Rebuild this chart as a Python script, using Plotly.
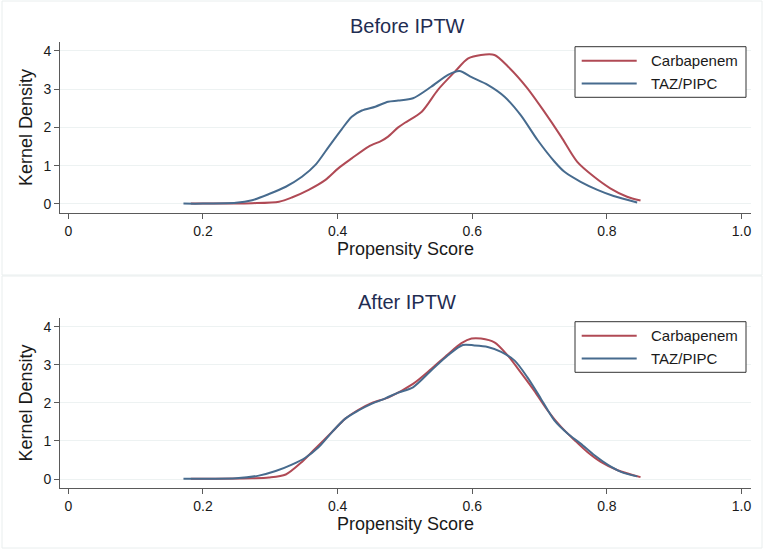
import plotly.graph_objects as go

W, H = 767, 551

# ---- data ----
series_names = ["Carbapenem", "TAZ/PIPC"]
panel_titles = ["Before IPTW", "After IPTW"]
x_ticks = [0, 0.2, 0.4, 0.6, 0.8, 1.0]
x_ticklabels = ["0", "0.2", "0.4", "0.6", "0.8", "1.0"]
y_ticks = [0, 1, 2, 3, 4]

before_carb_x = [0.182, 0.22, 0.273, 0.313, 0.332, 0.357, 0.382, 0.401, 0.421, 0.446, 0.465, 0.475, 0.490, 0.500,
                 0.525, 0.549, 0.574, 0.594, 0.613, 0.633, 0.653, 0.682, 0.707, 0.732, 0.756, 0.781, 0.805, 0.830, 0.850]
before_carb_y = [0.01, 0.01, 0.02, 0.06, 0.17, 0.37, 0.63, 0.93, 1.19, 1.50, 1.65, 1.76, 2.00, 2.12,
                 2.41, 2.98, 3.45, 3.80, 3.89, 3.89, 3.59, 3.02, 2.41, 1.76, 1.10, 0.71, 0.41, 0.19, 0.09]

before_taz_x = [0.171, 0.20, 0.249, 0.273, 0.298, 0.323, 0.347, 0.367, 0.387, 0.406, 0.421, 0.436, 0.456, 0.475, 0.490,
                0.512, 0.539, 0.564, 0.581, 0.599, 0.623, 0.648, 0.672, 0.697, 0.722, 0.737, 0.761, 0.786, 0.810, 0.845]
before_taz_y = [0.01, 0.01, 0.03, 0.10, 0.26, 0.45, 0.71, 1.02, 1.50, 1.95, 2.28, 2.44, 2.54, 2.67, 2.70,
                2.76, 3.06, 3.37, 3.47, 3.31, 3.11, 2.80, 2.32, 1.67, 1.11, 0.84, 0.58, 0.37, 0.21, 0.04]

after_carb_x = [0.182, 0.22, 0.273, 0.298, 0.323, 0.347, 0.367, 0.392, 0.411, 0.431, 0.451, 0.475, 0.512, 0.539,
                0.564, 0.584, 0.599, 0.613, 0.633, 0.653, 0.672, 0.692, 0.712, 0.732, 0.752, 0.771, 0.791, 0.816, 0.850]
after_carb_y = [0.01, 0.01, 0.02, 0.04, 0.12, 0.45, 0.80, 1.24, 1.58, 1.82, 2.00, 2.14, 2.50, 2.89,
                3.28, 3.57, 3.69, 3.69, 3.59, 3.24, 2.80, 2.32, 1.80, 1.37, 1.02, 0.71, 0.45, 0.23, 0.05]

after_taz_x = [0.171, 0.21, 0.249, 0.283, 0.308, 0.332, 0.352, 0.372, 0.392, 0.411, 0.431, 0.451, 0.471, 0.490, 0.512,
               0.539, 0.564, 0.586, 0.603, 0.623, 0.643, 0.663, 0.682, 0.702, 0.722, 0.742, 0.761, 0.781, 0.801, 0.821, 0.845]
after_taz_y = [0.01, 0.01, 0.02, 0.09, 0.21, 0.38, 0.56, 0.84, 1.24, 1.58, 1.80, 1.98, 2.12, 2.27, 2.41,
               2.85, 3.25, 3.52, 3.51, 3.47, 3.34, 3.11, 2.67, 2.11, 1.54, 1.19, 0.93, 0.63, 0.38, 0.19, 0.07]

# ---- style ----
RED = "#b04a55"
BLUE = "#476b8e"
TITLE_C = "#1f2d52"
TEXT_C = "#1a1a1a"
AXIS_C = "#5a5a5a"
GRID_C = "#edf2f2"
FONT = "Liberation Sans, Arial, sans-serif"

def px_x(p):
    return p / W

def px_y(p):
    return 1 - p / H

fig = go.Figure()

panels = [
    (before_carb_x, before_carb_y, before_taz_x, before_taz_y, "x", "y"),
    (after_carb_x, after_carb_y, after_taz_x, after_taz_y, "x2", "y2"),
]
for cx, cy, tx, ty, xa, ya in panels:
    fig.add_trace(go.Scatter(x=cx, y=cy, mode="lines", name=series_names[0],
                             line=dict(color=RED, width=2, shape="spline", smoothing=0.8),
                             xaxis=xa, yaxis=ya, showlegend=False))
    fig.add_trace(go.Scatter(x=tx, y=ty, mode="lines", name=series_names[1],
                             line=dict(color=BLUE, width=2, shape="spline", smoothing=0.8),
                             xaxis=xa, yaxis=ya, showlegend=False))

# panel geometry in pixels
geo = [
    dict(top=41.7, bottom=213.3, title=26, ptop=1, pbot=275, leg=46.7),
    dict(top=317.7, bottom=488.3, title=301.7, ptop=276, pbot=548, leg=321.7),
]
x_left, x_right = 60.2, 751

axis_common = dict(showline=True, linecolor=AXIS_C, linewidth=1, ticks="outside", ticklen=5,
                   tickcolor=AXIS_C, tickwidth=1, zeroline=False,
                   tickfont=dict(family=FONT, size=14, color=TEXT_C))

layout_axes = {}
for i, g in enumerate(geo):
    sfx = "" if i == 0 else str(i + 1)
    layout_axes["xaxis" + sfx] = dict(
        domain=[px_x(x_left), px_x(x_right)], anchor="y" + sfx,
        range=[-0.0121, 1.0141], tickvals=x_ticks, ticktext=x_ticklabels, showgrid=False,
        title=dict(text="Propensity Score", font=dict(family=FONT, size=18, color=TEXT_C), standoff=4),
        **axis_common)
    layout_axes["yaxis" + sfx] = dict(
        domain=[px_y(g["bottom"]), px_y(g["top"])], anchor="x" + sfx,
        range=[-0.243, 4.237], tickvals=y_ticks, showgrid=True, gridcolor=GRID_C, gridwidth=1,
        title=dict(text="Kernel Density", font=dict(family=FONT, size=18, color=TEXT_C), standoff=6),
        **axis_common)

shapes = []
annotations = []
for i, g in enumerate(geo):
    shapes.append(dict(type="rect", xref="paper", yref="paper",
                       x0=px_x(2), x1=px_x(762), y0=px_y(g["pbot"]), y1=px_y(g["ptop"]),
                       line=dict(color="#e9eeee", width=1), fillcolor="rgba(0,0,0,0)", layer="below"))
    annotations.append(dict(text=panel_titles[i], xref="paper", yref="paper",
                            x=px_x(407), y=px_y(g["title"]), xanchor="center", yanchor="middle",
                            showarrow=False, font=dict(family=FONT, size=20, color=TITLE_C)))
    lt = g["leg"]
    shapes.append(dict(type="rect", xref="paper", yref="paper",
                       x0=px_x(575), x1=px_x(746), y0=px_y(lt + 50.6), y1=px_y(lt),
                       line=dict(color="#333333", width=1), fillcolor="white"))
    for j, (nm, col) in enumerate(zip(series_names, [RED, BLUE])):
        yy = lt + 14 + j * 22.7
        shapes.append(dict(type="line", xref="paper", yref="paper",
                           x0=px_x(581.7), x1=px_x(636.7), y0=px_y(yy), y1=px_y(yy),
                           line=dict(color=col, width=2)))
        annotations.append(dict(text=nm, xref="paper", yref="paper",
                                x=px_x(649), y=px_y(yy), xanchor="left", yanchor="middle",
                                showarrow=False, font=dict(family=FONT, size=15, color=TEXT_C)))

fig.update_layout(
    width=W, height=H, autosize=False,
    margin=dict(l=0, r=0, t=0, b=0),
    paper_bgcolor="white", plot_bgcolor="white",
    font=dict(family=FONT, color=TEXT_C),
    shapes=shapes, annotations=annotations,
    **layout_axes,
)

fig.write_html("out.html", config={"displayModeBar": False},
               post_script="document.body.style.margin='0';document.body.style.overflow='hidden';")
